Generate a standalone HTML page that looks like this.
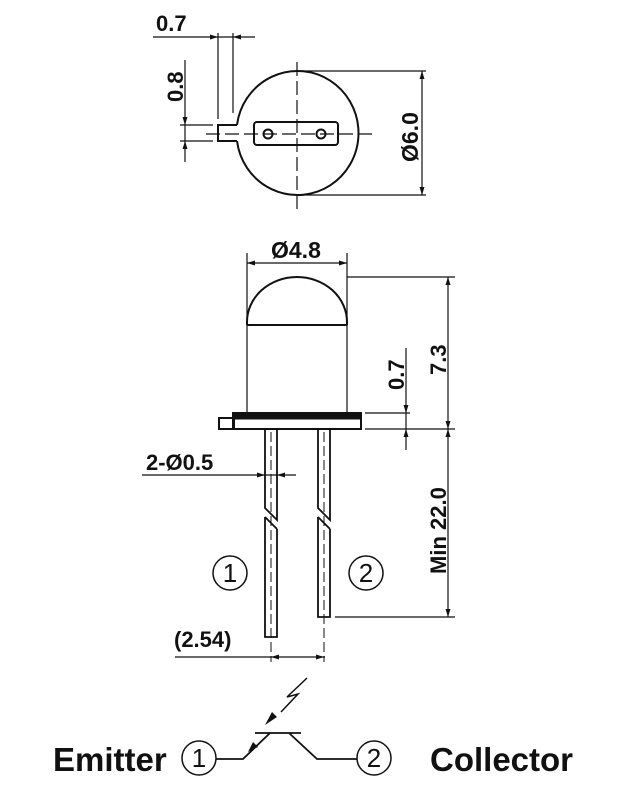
<!DOCTYPE html>
<html><head><style>
html,body{margin:0;padding:0;background:#fff;}
svg{display:block;}
text{font-family:"Liberation Sans",Arial,sans-serif;font-weight:bold;fill:#111;}
text.n{font-weight:normal;}
</style></head><body>
<svg width="631" height="800" viewBox="0 0 631 800" xmlns="http://www.w3.org/2000/svg">
<g stroke="#111" fill="none" stroke-width="1.5">
<path d="M237,125 A61,62 0 1 1 237,141" stroke-width="2"/>
<path d="M237,125 L218,125 L218,141 L237,141" stroke-width="2"/>
<rect x="254" y="122" width="84" height="23" rx="3" stroke-width="2"/>
<circle cx="268" cy="134" r="4.5" stroke-width="2"/>
<circle cx="321" cy="134" r="4.5" stroke-width="2"/>
<path d="M297,62 V210 M206,134 H372" stroke-dasharray="14,5" stroke-width="1.2"/>
<path d="M153,37 H255 M218,33 V119 M233,33 V113" stroke-width="1.2"/>
<path d="M185,60 V162 M180,125 H213 M180,141 H213" stroke-width="1.2"/>
<path d="M300,71 H426 M300,195 H426 M422,71 V195" stroke-width="1.2"/>
<path d="M247,263 H347 M247,253 V413 M347,253 V413" stroke-width="1.2"/>
<path d="M247,325 V322 A50,45 0 0 1 347,322 V325" stroke-width="2"/>
<path d="M247,325 H347" stroke-width="2"/>
<rect x="233" y="413" width="128" height="16" stroke-width="2"/>
<rect x="233" y="413" width="128" height="6" fill="#111" stroke-width="1"/>
<rect x="219" y="418" width="15" height="11" stroke-width="2"/>
<path d="M265,429 V508 L277,520 V429 M265,517 L277,529 M265,517 V637 H277 V529" stroke-width="1.8"/>
<path d="M318,429 V508 L330,520 V429 M318,517 L330,529 M318,517 V617 H330 V529" stroke-width="1.8"/>
<path d="M271,432 V662 M324,432 V662" stroke-dasharray="10,4" stroke-width="1"/>
<path d="M347,277 H455 M365,429 H455 M365,413 H410 M335,617 H455" stroke-width="1.2"/>
<path d="M448,277 V429 M448,429 V617 M406,348 V450" stroke-width="1.2"/>
<path d="M142,475 H296" stroke-width="1.2"/>
<path d="M175,657 H325" stroke-width="1.2"/>
<circle cx="230" cy="573" r="17"/>
<circle cx="366" cy="573" r="17"/>
<circle cx="199" cy="758" r="17"/>
<circle cx="374" cy="758" r="17"/>
<path d="M216,759 H243 L270,733 M255,733 H301 M289,733 L317,759 H357" stroke-width="1.8"/>
<path d="M307,678 L287,697 L298,694 L281,712" stroke-width="1.5"/>
</g>
<g fill="#111">
<path d="M265,725 L272,712 L277,717 z"/>
<path d="M248,752 L253,742 L258,747 z"/>
<path d="M218,37 l-8,-2.5 v5 z M233,37 l8,-2.5 v5 z"/>
<path d="M185,125 l-2.5,-8 h5 z M185,141 l-2.5,8 h5 z"/>
<path d="M422,71 l-2.5,8 h5 z M422,195 l-2.5,-8 h5 z"/>
<path d="M247,263 l8,-2.5 v5 z M347,263 l-8,-2.5 v5 z"/>
<path d="M448,277 l-2.5,8 h5 z M448,429 l-2.5,-8 h5 z M448,429 l-2.5,8 h5 z M448,617 l-2.5,-8 h5 z"/>
<path d="M406,413 l-2.5,-8 h5 z M406,429 l-2.5,8 h5 z"/>
<path d="M265,475 l-8,-2.5 v5 z M277,475 l8,-2.5 v5 z"/>
<path d="M271,657 l8,-2.5 v5 z M324,657 l-8,-2.5 v5 z"/>
</g>
<text x="156" y="31" font-size="22">0.7</text>
<text transform="translate(183,102) rotate(-90)" font-size="22">0.8</text>
<text transform="translate(418,162) rotate(-90)" font-size="23">Ø6.0</text>
<text x="271" y="258" font-size="23">Ø4.8</text>
<text transform="translate(404,390) rotate(-90)" font-size="22">0.7</text>
<text transform="translate(446,375) rotate(-90)" font-size="22">7.3</text>
<text transform="translate(446,574) rotate(-90)" font-size="22">Min 22.0</text>
<text x="146" y="470" font-size="22">2-Ø0.5</text>
<text x="174" y="647" font-size="22">(2.54)</text>
<text class="n" x="230" y="582" font-size="26" text-anchor="middle">1</text>
<text class="n" x="366" y="582" font-size="26" text-anchor="middle">2</text>
<text x="53" y="771" font-size="33">Emitter</text>
<text class="n" x="199" y="767" font-size="26" text-anchor="middle">1</text>
<text class="n" x="374" y="767" font-size="26" text-anchor="middle">2</text>
<text x="430" y="771" font-size="33">Collector</text>
</svg>
</body></html>
